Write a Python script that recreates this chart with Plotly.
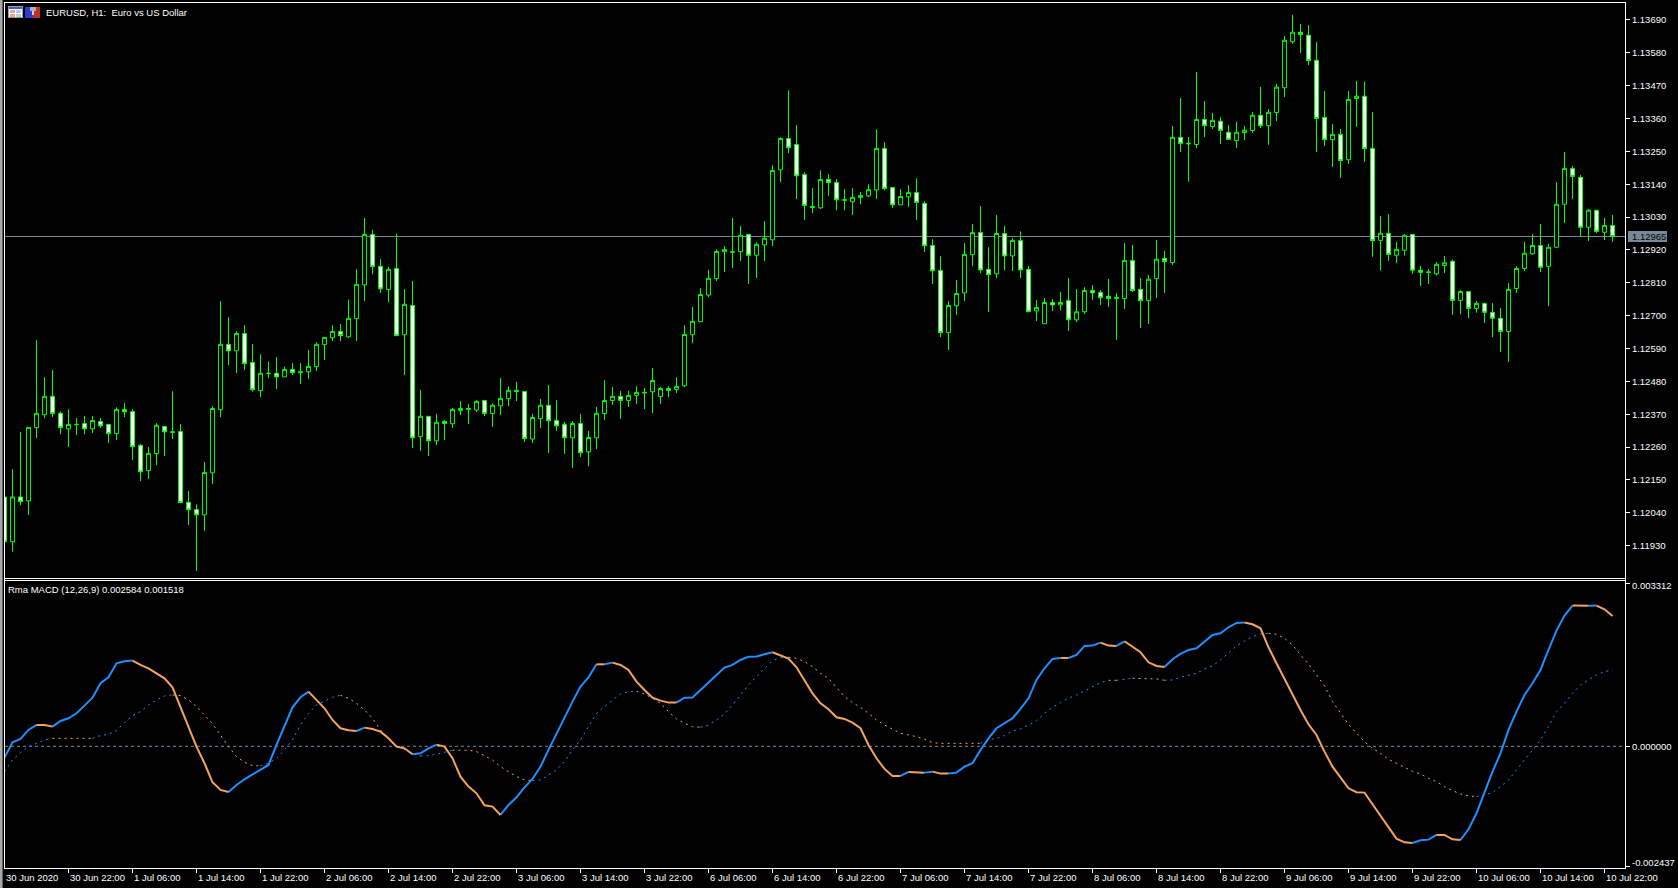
import plotly.graph_objects as go

# Prices in points (1 point = 0.00001)
OPEN_PTS = [
112093,111943,112093,112080,112325,112368,112430,112373,112321,112335,
112339,112321,112346,112336,112305,112386,112379,112266,112181,112238,
112329,112309,112312,112075,112051,112033,112174,112385,112604,112582,
112640,112543,112449,112506,112507,112495,112520,112509,112512,112529,
112603,112626,112647,112629,112690,112803,112972,112865,112787,112858,
112636,112734,112295,112363,112281,112346,112338,112382,112386,112384,
112416,112372,112398,112422,112446,112446,112287,112355,112400,112349,
112336,112291,112339,112244,112291,112372,112416,112430,112416,112433,
112441,112445,112429,112456,112453,112465,112636,112680,112769,112824,
112914,112912,112914,112972,112902,112937,112954,113188,113293,113273,
113173,113062,113061,113156,113146,113086,113081,113095,113101,113121,
113260,113129,113071,113098,113112,113076,112935,112851,112643,112733,
112776,112904,112978,112855,112840,112975,112900,112952,112855,112716,
112673,112744,112736,112751,112686,112713,112784,112778,112765,112757,
112757,112885,112788,112750,112824,112892,112878,113297,113275,113273,
113357,113333,113351,113314,113286,113313,113320,113371,113336,113380,
113463,113617,113649,113639,113555,113364,113289,113307,113222,113427,
113435,113260,112952,112976,112902,112919,112972,112852,112844,112840,
112868,112882,112751,112781,112724,112741,112711,112691,112647,112791,
112858,112907,112935,112865,112929,113073,113193,113163,112996,113053,
112979,113002]
HIGH_PTS = [
112100,112186,112310,112326,112618,112494,112518,112379,112387,112357,
112364,112364,112357,112336,112393,112407,112387,112270,112260,112340,
112329,112447,112337,112113,112068,112210,112397,112749,112695,112648,
112668,112605,112571,112546,112561,112530,112541,112541,112585,112611,
112627,112668,112672,112754,112856,113027,112987,112889,112863,112974,
112789,112816,112451,112363,112371,112350,112391,112414,112404,112417,
112416,112407,112491,112464,112478,112446,112371,112421,112468,112417,
112344,112347,112371,112314,112394,112484,112461,112448,112448,112464,
112458,112525,112461,112464,112494,112668,112729,112792,112853,112922,
112933,113027,113000,112972,112946,113017,113204,113297,113455,113338,
113180,113127,113187,113174,113157,113124,113127,113114,113140,113324,
113281,113129,113124,113137,113160,113083,112956,112899,112749,112819,
112943,113006,113067,112929,113037,113000,112960,112982,112866,112752,
112759,112755,112779,112826,112789,112795,112802,112786,112823,112776,
112943,112937,112826,112836,112953,112917,113335,113429,113298,113516,
113419,113379,113365,113338,113349,113335,113382,113466,113392,113476,
113636,113707,113677,113673,113616,113452,113342,113325,113452,113486,
113483,113382,113034,113040,112947,112973,112973,112866,112856,112880,
112900,112888,112785,112781,112749,112744,112742,112726,112809,112866,
112947,112973,113007,112940,113147,113248,113201,113171,113057,113054,
113027,113037]
LOW_PTS = [
111930,111910,112066,112032,112290,112357,112361,112303,112260,112300,
112303,112307,112324,112273,112283,112360,112216,112146,112153,112200,
112230,112287,112074,111999,111845,111979,112136,112360,112534,112508,
112518,112446,112427,112491,112454,112495,112501,112471,112488,112514,
112551,112615,112615,112625,112615,112749,112839,112776,112745,112633,
112501,112257,112247,112230,112267,112283,112324,112367,112337,112377,
112364,112327,112367,112397,112414,112277,112273,112324,112240,112314,
112237,112190,112227,112196,112253,112350,112401,112354,112394,112404,
112387,112374,112404,112427,112441,112461,112608,112680,112762,112816,
112846,112859,112883,112806,112826,112883,112933,113147,113244,113090,
113020,113043,113057,113100,113053,113053,113037,113073,113097,113090,
113120,113060,113071,113063,113020,112913,112806,112628,112585,112702,
112749,112866,112842,112712,112826,112852,112849,112826,112713,112682,
112673,112715,112718,112648,112678,112705,112752,112736,112729,112619,
112722,112779,112659,112672,112759,112776,112870,113248,113148,113261,
113298,113325,113275,113290,113261,113288,113312,113328,113272,113352,
113432,113610,113580,113539,113248,113268,113198,113161,113208,113332,
113215,112897,112851,112884,112876,112901,112840,112799,112806,112834,
112843,112702,112705,112692,112710,112675,112628,112578,112545,112776,
112849,112904,112846,112732,112926,113010,113090,112963,112950,112977,
112953,112947]
CLOSE_PTS = [
111943,112093,112077,112326,112373,112430,112372,112325,112336,112336,
112321,112349,112331,112305,112386,112378,112261,112177,112239,112333,
112311,112311,112074,112050,112033,112175,112389,112604,112582,112640,
112539,112452,112507,112507,112495,112520,112509,112512,112530,112604,
112627,112647,112633,112691,112805,112972,112864,112790,112855,112633,
112738,112291,112363,112281,112343,112339,112386,112389,112389,112413,
112372,112400,112423,112450,112450,112288,112359,112400,112348,112331,
112291,112339,112241,112292,112373,112416,112430,112416,112433,112443,
112443,112483,112456,112450,112463,112637,112681,112771,112825,112915,
112921,112914,112969,112902,112939,112959,113186,113293,113262,113168,
113069,113066,113156,113145,113088,113088,113096,113102,113122,113260,
113125,113071,113099,113112,113079,112934,112850,112643,112734,112774,
112905,112978,112853,112837,112975,112900,112952,112853,112713,112727,
112744,112736,112744,112686,112713,112784,112776,112760,112757,112761,
112885,112784,112750,112822,112889,112881,113297,113276,113277,113357,
113336,113354,113320,113290,113314,113321,113371,113336,113381,113465,
113622,113649,113641,113554,113360,113289,113307,113219,113424,113435,
113259,112951,112976,112905,112922,112969,112852,112845,112846,112872,
112877,112751,112781,112724,112741,112711,112691,112647,112788,112858,
112909,112935,112862,112929,113073,113193,113166,112996,113053,112982,
113002,112965]

# Indicator values in millionths
MACD_U = [
-230,81,149,332,433,433,399,515,569,670,
826,988,1280,1401,1686,1726,1740,1652,1584,1483,
1381,1198,806,399,-7,-345,-731,-887,-927,-785,
-670,-569,-481,-379,27,399,792,995,1110,941,
772,535,366,325,311,379,352,298,162,-7,
-41,-162,-142,-41,34,-7,-244,-616,-819,-955,
-1198,-1225,-1395,-1192,-1036,-833,-663,-413,-74,264,
569,907,1212,1401,1665,1665,1699,1652,1550,1313,
1144,988,927,887,887,988,989,1144,1293,1442,
1598,1652,1753,1821,1822,1869,1909,1841,1781,1604,
1334,1076,873,751,589,555,481,366,27,-244,
-460,-603,-603,-521,-521,-535,-515,-555,-555,-535,
-413,-345,-74,162,366,460,569,758,975,1347,
1584,1774,1794,1794,1855,2038,2045,2105,2045,2038,
2133,2024,1909,1706,1632,1611,1767,1875,1957,1990,
2133,2261,2295,2417,2505,2512,2478,2397,2011,1686,
1361,1043,738,447,230,-108,-413,-630,-853,-934,
-941,-1178,-1415,-1652,-1875,-1950,-1963,-1909,-1896,-1801,
-1801,-1889,-1902,-1686,-1361,-921,-515,-142,332,704,
1043,1280,1550,1957,2349,2654,2857,2856,2855,2858,
2782,2647]
SIGNAL_U = [
-515,-278,-129,-7,61,129,162,162,162,162,
162,162,217,244,318,481,623,704,839,941,
1022,1043,1029,941,806,636,454,230,-7,-210,
-325,-393,-399,-345,-244,-74,129,433,670,839,
921,995,1036,975,873,738,569,332,162,14,
-61,-156,-196,-190,-162,-122,-81,-81,-81,-108,
-190,-278,-413,-515,-616,-684,-697,-684,-582,-481,
-311,-74,129,399,670,806,941,1063,1110,1117,
1063,975,873,704,555,467,399,386,433,535,
657,839,1043,1246,1415,1584,1740,1801,1808,1787,
1720,1618,1483,1381,1192,1009,887,792,670,535,
433,352,264,230,196,142,74,60,60,60,
60,60,60,129,162,217,311,352,433,521,
670,792,887,975,1043,1124,1212,1293,1340,1340,
1368,1381,1381,1381,1368,1340,1347,1401,1449,1483,
1571,1632,1753,1889,2038,2139,2227,2281,2295,2275,
2193,2058,1855,1672,1449,1225,907,670,447,264,
95,-41,-142,-264,-345,-427,-508,-562,-650,-718,
-819,-900,-968,-1009,-1022,-988,-941,-819,-684,-481,
-278,-74,129,399,704,873,1076,1246,1347,1449,
1516,1550]

TICK_BARS = list(range(0, 201, 8))
TICK_LABELS = ["30 Jun 2020","30 Jun 22:00","1 Jul 06:00","1 Jul 14:00","1 Jul 22:00",
    "2 Jul 06:00","2 Jul 14:00","2 Jul 22:00","3 Jul 06:00","3 Jul 14:00","3 Jul 22:00",
    "6 Jul 06:00","6 Jul 14:00","6 Jul 22:00","7 Jul 06:00","7 Jul 14:00","7 Jul 22:00",
    "8 Jul 06:00","8 Jul 14:00","8 Jul 22:00","9 Jul 06:00","9 Jul 14:00","9 Jul 22:00",
    "10 Jul 06:00","10 Jul 14:00","10 Jul 22:00"]
PRICE_TICKS = [1.13690,1.13580,1.13470,1.13360,1.13250,1.13140,1.13030,1.12920,1.12810,
    1.12700,1.12590,1.12480,1.12370,1.12260,1.12150,1.12040,1.11930]
LAST_PRICE = 1.12965
MACD_TICKS = [(0.003312,"0.003312",585.5),(0.0,"0.000000",746),(-0.002437,"-0.002437",862.5)]

for arr in (OPEN_PTS, HIGH_PTS, LOW_PTS, CLOSE_PTS, MACD_U, SIGNAL_U):
    assert len(arr) == 202, len(arr)

W, H = 1678, 888
FONT = "Liberation Sans, Arial, sans-serif"
FS = 9.5
LIME, BLUE, ORANGE, SLATE = "#00FF00", "#1E90FF", "#F4A460", "#778899"
px = lambda v: v / W
py = lambda v: 1 - v / H

bars = list(range(len(OPEN_PTS)))
fig = go.Figure()
fig.add_trace(go.Candlestick(
    x=bars,
    open=[v / 1e5 for v in OPEN_PTS], high=[v / 1e5 for v in HIGH_PTS],
    low=[v / 1e5 for v in LOW_PTS], close=[v / 1e5 for v in CLOSE_PTS],
    increasing=dict(line=dict(color=LIME, width=1), fillcolor="#000000"),
    decreasing=dict(line=dict(color=LIME, width=1), fillcolor="#FFFFFF"),
    whiskerwidth=0, xaxis="x", yaxis="y", showlegend=False, name="EURUSD"))


def coloured(values, width, dash):
    """Blue where the value rises, orange where it does not."""
    buckets = {BLUE: ([], []), ORANGE: ([], [])}
    for i in range(1, len(values)):
        col = BLUE if values[i] > values[i - 1] else ORANGE
        xs, ys = buckets[col]
        if xs and xs[-1] == i - 1:
            xs.append(i)
            ys.append(values[i] / 1e6)
        else:
            if xs:
                xs.append(None)
                ys.append(None)
            xs += [i - 1, i]
            ys += [values[i - 1] / 1e6, values[i] / 1e6]
    for col, (xs, ys) in buckets.items():
        fig.add_trace(go.Scatter(x=xs, y=ys, mode="lines", xaxis="x2", yaxis="y2",
                                 line=dict(color=col, width=width, dash=dash),
                                 showlegend=False, connectgaps=False))


coloured(SIGNAL_U, 1, "2px,4px")
coloured(MACD_U, 2, "solid")

x_range = [(5 - 4.5) / 8, (1625 - 4.5) / 8]
shapes = []


def hline(y, x0=4, x1=1626, color="#FFFFFF"):
    shapes.append(dict(type="line", xref="paper", yref="paper", x0=px(x0), x1=px(x1),
                       y0=py(y), y1=py(y), line=dict(color=color, width=1), layer="above"))


def vline(x, y0, y1, color="#FFFFFF"):
    shapes.append(dict(type="line", xref="paper", yref="paper", x0=px(x), x1=px(x),
                       y0=py(y0), y1=py(y1), line=dict(color=color, width=1), layer="above"))


def box(x0, y0, x1, y1, color):
    shapes.append(dict(type="rect", xref="paper", yref="paper", x0=px(x0), x1=px(x1),
                       y0=py(y0), y1=py(y1), line=dict(width=0), fillcolor=color, layer="above"))


# window chrome and pane frames
box(0, 0, 2, H, "#A8A8A8")
box(2, 0, 3, H, "#606060")
for y in (2.5, 578.5, 580.5, 868.5):
    hline(y)
vline(4.5, 2, 869)
vline(1625.5, 2, 869)

# price line and zero line
shapes.append(dict(type="line", xref="paper", yref="y", x0=px(5), x1=px(1625), y0=LAST_PRICE, y1=LAST_PRICE,
                   line=dict(color=SLATE, width=1), layer="below"))
shapes.append(dict(type="line", xref="paper", yref="y2", x0=px(5), x1=px(1625), y0=0, y1=0,
                   line=dict(color=SLATE, width=1, dash="3px,3px"), layer="below"))

# current price tag
box(1628, 231, 1667, 242, SLATE)

# the two toolbar icons of the chart header
box(8, 6, 23, 18, "#9A9A9A")
box(9, 7, 22, 9, "#3C5CC8")
box(9, 9, 22, 17, "#FFFFFF")
box(10, 10, 15, 13, "#F0A090"); box(16, 10, 21, 13, "#B8C8F0")
box(10, 14, 15, 17, "#F0A090"); box(16, 14, 21, 17, "#B8C8F0")
box(25, 7, 33, 18, "#2C3CD0")
box(33, 7, 40, 18, "#C03028")
box(30, 7, 36, 11, "#B0B0B0")
box(32, 11, 34, 15, "#D0D0D0")


def text(x, y, s, xref="paper", color="#FFFFFF"):
    return dict(x=x, y=py(y), xref=xref, yref="paper", text=s, showarrow=False,
                xanchor="left", yanchor="middle", borderpad=0, align="left",
                font=dict(family=FONT, size=FS, color=color))


annotations = [
    text(px(45), 12.5, "EURUSD,\u00a0H1:\u00a0\u00a0Euro\u00a0vs\u00a0US\u00a0Dollar"),
    text(px(7), 589, "Rma\u00a0MACD\u00a0(12,26,9)\u00a00.002584\u00a00.001518"),
    text(px(1631), 236.5, f"{LAST_PRICE:.5f}", color="#000000"),
]
for b, s in zip(TICK_BARS, TICK_LABELS):
    annotations.append(text(max(b, x_range[0]), 877.5, s.replace(" ", "\u00a0"), xref="x2"))
for _, s, y in MACD_TICKS:
    annotations.append(text(px(1630.5), y, s))

fig.update_layout(
    width=W, height=H, autosize=False,
    margin=dict(l=0, r=0, t=0, b=0, pad=0),
    paper_bgcolor="#000000", plot_bgcolor="#000000",
    showlegend=False, hovermode=False, dragmode=False,
    font=dict(family=FONT, size=FS, color="#FFFFFF"),
    shapes=shapes, annotations=annotations,
    xaxis=dict(domain=[px(5), px(1625)], range=x_range, anchor="y", showgrid=False, zeroline=False,
               showticklabels=False, ticks="", rangeslider=dict(visible=False), showline=False),
    yaxis=dict(domain=[py(578), py(3)], range=[1.118216, 1.137468], side="right", anchor="x",
               tickmode="array", tickvals=PRICE_TICKS, ticktext=[f"{v:.5f}" for v in PRICE_TICKS],
               ticks="outside", ticklen=4, tickwidth=1, tickcolor="#FFFFFF",
               tickfont=dict(family=FONT, size=FS, color="#FFFFFF"),
               showgrid=False, zeroline=False, showline=False),
    xaxis2=dict(domain=[px(5), px(1625)], range=x_range, anchor="y2", showgrid=False, zeroline=False,
                tickmode="array", tickvals=TICK_BARS, ticktext=[""] * len(TICK_BARS),
                ticks="outside", ticklen=4, tickwidth=1, tickcolor="#FFFFFF", showline=False),
    yaxis2=dict(domain=[py(868), py(581)], range=[-0.002472, 0.003357], side="right", anchor="x2",
                tickmode="array", tickvals=[t[0] for t in MACD_TICKS], ticktext=[""] * 3,
                ticks="outside", ticklen=4, tickwidth=1, tickcolor="#FFFFFF",
                showgrid=False, zeroline=False, showline=False),
)

fig.write_html("out.html", config=dict(displayModeBar=False, staticPlot=True),
               post_script="document.body.style.margin='0';document.documentElement.style.overflow='hidden';document.body.style.background='#000';")
